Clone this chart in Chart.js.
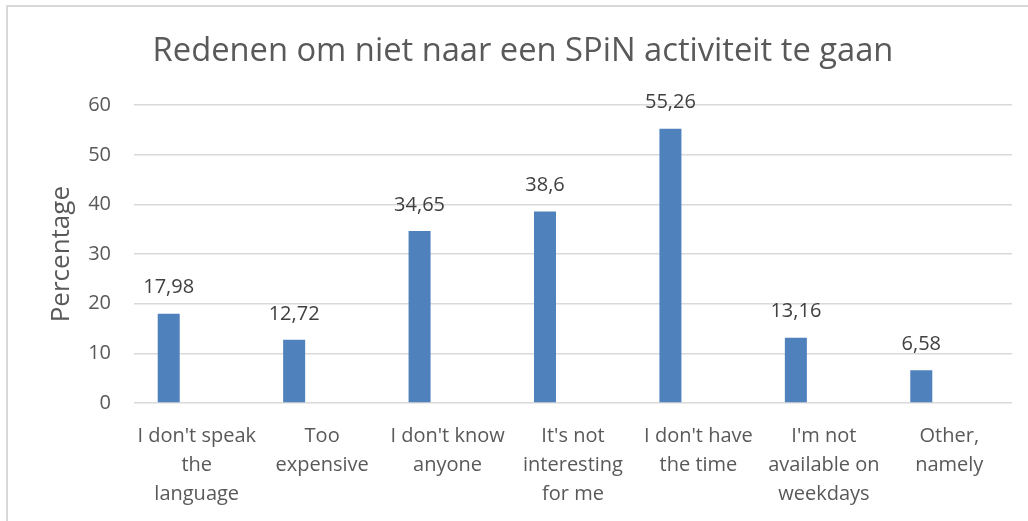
<!DOCTYPE html>
<html>
<head>
<meta charset="utf-8">
<script src="https://cdn.jsdelivr.net/npm/chart.js@4"></script>
<style>
  html, body { margin: 0; padding: 0; background: #fff; overflow: hidden; }
  #wrap { position: relative; width: 1028px; height: 521px; }
  #frame {
    position: absolute; left: 6px; top: 5px; width: 1100px; height: 600px;
    border-left: 2px solid #d9d9d9; border-top: 2px solid #d9d9d9;
    pointer-events: none;
  }
</style>
</head>
<body>
<div id="wrap">
  <canvas id="chart" width="1028" height="521"></canvas>
  <div id="frame"></div>
</div>
<script>
const categories = [
    ["I don't speak", "the", "language"],
    ["Too", "expensive"],
    ["I don't know", "anyone"],
    ["It's not", "interesting", "for me"],
    ["I don't have", "the time"],
    ["I'm not", "available on", "weekdays"],
    ["Other,", "namely"]
];
const percentages = [17.98, 12.72, 34.65, 38.6, 55.26, 13.16, 6.58];
const emptySeries = [null, null, null, null, null, null, null]; // second (empty) series in the original sheet
const yTicks = [0, 10, 20, 30, 40, 50, 60];

const FONT = "'Open Sans', sans-serif";

// draws the value above each bar, with a decimal comma
const valueLabels = {
    id: 'valueLabels',
    afterDatasetsDraw(chart) {
        const ctx = chart.ctx;
        const meta = chart.getDatasetMeta(0);
        ctx.save();
        ctx.font = '20px ' + FONT;
        ctx.fillStyle = '#404040';
        ctx.textAlign = 'center';
        ctx.textBaseline = 'middle';
        meta.data.forEach((bar, i) => {
            const v = percentages[i];
            ctx.fillText(String(v).replace('.', ','), bar.x, bar.y - 26);
        });
        ctx.restore();
    }
};

const ctx = document.getElementById('chart').getContext('2d');
new Chart(ctx, {
    type: 'bar',
    data: {
        labels: categories,
        datasets: [{
            label: 'Percentage',
            data: percentages,
            backgroundColor: '#4f81bd',
            borderWidth: 0,
            categoryPercentage: 0.893,
            barPercentage: 0.393,
        }, {
            label: 'Empty',
            data: emptySeries,
            backgroundColor: '#c0504d',
            categoryPercentage: 0.893,
            barPercentage: 0.393,
        }],
    },
    options: {
        responsive: false,
        animation: false,
        layout: {
            padding: { left: 34, right: 16, top: 0, bottom: 0 },
        },
        plugins: {
            legend: { display: false },
            tooltip: { enabled: false },
            title: {
                display: true,
                text: 'Redenen om niet naar een SPiN activiteit te gaan',
                font: { family: FONT, size: 32.7, weight: 'normal' },
                color: '#595959',
                padding: { top: 32, bottom: 34 },
            },
        },
        scales: {
            x: {
                grid: { display: false, drawTicks: false },
                border: { display: false },
                ticks: {
                    color: '#595959',
                    font: { family: FONT, size: 20, lineHeight: '29px' },
                    padding: 19,
                    maxRotation: 0,
                    autoSkip: false,
                },
                afterFit(scale) { scale.height = 118; },
            },
            y: {
                min: 0,
                max: 60,
                afterBuildTicks(scale) { scale.ticks = yTicks.map(v => ({ value: v })); },
                grid: { color: '#d9d9d9', lineWidth: 1.5, drawTicks: false },
                border: { display: false },
                ticks: {
                    color: '#595959',
                    font: { family: FONT, size: 20 },
                    padding: 23,
                },
                title: {
                    display: true,
                    text: 'Percentage',
                    color: '#595959',
                    font: { family: FONT, size: 26 },
                    padding: { top: 12, bottom: 0 },
                },
                afterFit(scale) { scale.width = 100; },
            },
        },
    },
    plugins: [valueLabels],
});
</script>
</body>
</html>
